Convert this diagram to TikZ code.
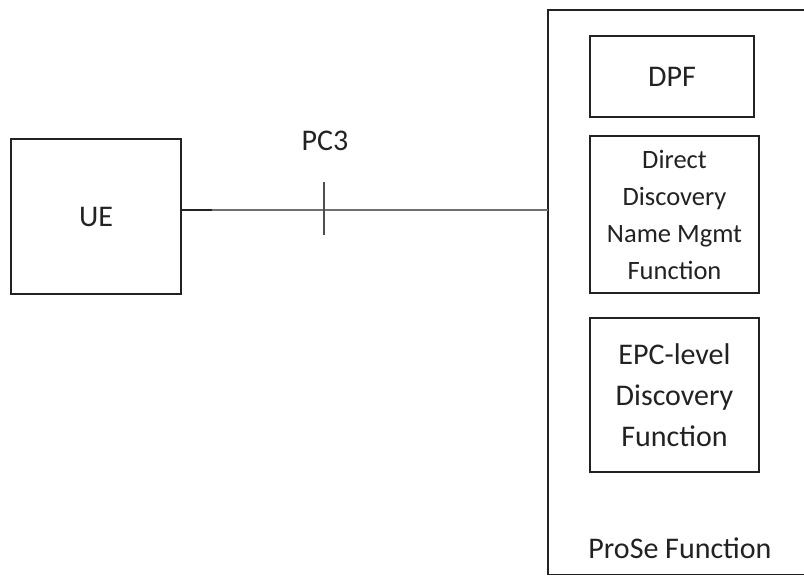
\documentclass[tikz,border=0pt]{standalone}
\usepackage{fontspec}
\setmainfont{Carlito}
\definecolor{ink}{HTML}{222222}
\definecolor{wire}{HTML}{707070}
\begin{document}
\begin{tikzpicture}[x=1pt,y=-1pt,
  box/.style={draw=ink,line width=1.6pt,inner sep=0pt,align=center,text=ink},
  big/.style={font=\fontsize{30}{41}\selectfont},
  small/.style={font=\fontsize{26.5}{37}\selectfont},
  lbl/.style={text=ink,inner sep=0pt}]
\useasboundingbox (0,0) rectangle (804,576);
\fill[white] (0,0) rectangle (804,576);
% UE
\node[box,big,minimum width=170pt,minimum height=155pt] (ue) at (96,216.5) {UE};
% ProSe outer box (right edge outside the picture)
\coordinate (pnw) at (548,10);
\coordinate (psw) at (548,574.5);
\draw[draw=ink,line width=1.2pt] (812,10) -- (pnw) -- (psw) -- (812,574.5);
\node[lbl,big] (prose) at (680,548) {ProSe Function};
% inner boxes
\node[box,big,minimum width=164pt,minimum height=81pt] (dpf) at (672,76.5) {DPF};
\node[box,small,minimum width=169pt,minimum height=157pt] (dd) at (674.5,214.5) {Direct\\Discovery\\Name Mgmt\\Function};
\node[box,big,minimum width=169pt,minimum height=154pt] (epc) at (674.5,395) {EPC-level\\Discovery\\Function};
% PC3 connector
\coordinate (ueout) at ([yshift=6.5pt]ue.east);
\coordinate (pin) at (pnw |- ueout);
\draw[wire,line width=1.6pt] (ueout) -- (pin);
\draw[ink,line width=2pt] (ueout) -- ++(30,0);
\coordinate (tick) at (324,210);
\draw[ink!80,line width=1.6pt] ([yshift=-25pt]tick) -- ([yshift=28pt]tick);
\node[lbl,big] (pc3) at (325,141) {PC3};
\end{tikzpicture}
\end{document}
